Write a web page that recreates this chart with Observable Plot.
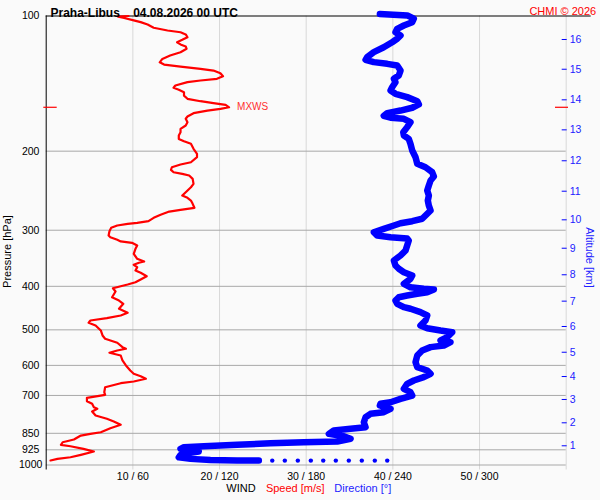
<!DOCTYPE html>
<html>
<head>
<meta charset="utf-8">
<script src="https://cdn.jsdelivr.net/npm/d3@7"></script>
<script src="https://cdn.jsdelivr.net/npm/@observablehq/plot@0.6"></script>
<style>
html, body { margin: 0; padding: 0; background: #fafafa; }
#chart svg { display: block; }
</style>
</head>
<body>
<div id="chart"></div>
<script>
// Wind speed profile [m/s] vs pressure [hPa]
const speedPressure = [100,100.3,101,102.3,103.2,104.5,106.2,107.7,108.7,109.9,111.5,113.0,114.4,115.7,116.9,118.3,120.4,122.5,124.6,126.8,128.3,129.6,131.1,132.3,134.1,136.2,138.0,139.2,140.4,142.8,144.5,146.0,147.8,150.4,152.9,154.8,156.4,157.7,159.7,161.0,162.4,164.6,167.4,169.4,172.4,175.3,178.4,181.5,184.6,187.8,190.1,192.6,197.6,202.7,206.3,211.7,214.2,217.2,220.1,222.8,224.7,226.6,230.5,236.5,240.6,246.9,251.1,254.1,257.6,262.0,267.4,270.2,272.6,277.2,281.5,286.4,288.8,290.3,292.8,296.3,301.5,308.3,311.0,315.1,317.8,320.0,324.4,330.0,338.5,347.3,352.2,354.5,358.2,362.6,368.8,373.2,379.8,386.3,391.7,396.3,399.8,403.9,410.8,423.0,430.2,437.5,448.8,458.1,464.5,471.0,476.6,482.2,488.9,501.6,514.6,523.4,534.2,546.4,551.0,555.8,562.4,570.3,585.1,600.3,615.9,626.4,634.2,642.7,651.7,657.4,671.0,688.4,697.7,708.5,721.0,730.7,743.5,749.6,760.0,775.9,789.1,800.1,813.8,828.1,845.4,852.4,859.8,877.6,889.9,901.6,908.2,920.4,933.2,949.2,961.0,968.9,977.2];
const speedValues = [9.5,8.3,9.0,10.1,10.9,11.7,12.4,14.0,15.5,16.1,16.3,15.7,15.1,15.5,16.1,16.2,15.5,14.3,13.4,13.1,13.6,15.5,17.8,19.3,20.1,20.4,19.7,17.8,16.3,14.9,14.7,15.3,15.9,15.9,16.3,17.8,19.3,20.7,21.1,20.1,18.6,17.0,16.3,16.1,16.3,16.1,15.5,15.5,15.3,15.3,15.9,16.7,17.0,17.4,17.4,16.7,15.5,14.5,14.4,14.7,15.7,16.5,16.9,17.0,16.7,16.1,15.7,16.3,16.7,16.9,17.1,15.5,14.2,13.2,12.4,11.8,10.5,9.4,8.2,7.5,7.3,7.2,7.4,8.2,8.6,9.9,10.5,10.3,10.1,10.5,11.3,10.7,10.1,10.5,10.3,10.9,11.6,10.9,10.3,9.4,8.6,7.7,8.0,7.6,8.4,8.9,8.4,9.4,8.6,7.0,5.1,4.9,5.7,6.3,6.5,6.8,8.2,8.8,9.2,8.2,7.3,8.6,8.8,9.2,9.7,10.1,10.9,11.5,10.1,8.6,6.8,6.7,6.8,4.7,4.7,5.3,5.5,5.9,5.3,5.7,7.0,7.8,8.6,7.4,6.3,5.1,4.0,3.2,1.9,1.7,2.8,4.3,5.5,4.0,2.8,1.3,0.5];

// Wind direction profile [deg] vs pressure [hPa]
const dirPressure = [99,99.7,101.4,103.2,105.0,106.8,108.7,110.5,112.4,114.4,117.4,120.4,123.5,125.2,126.7,127.8,128.9,132.3,135.7,138.0,140.4,144.1,146.5,149.0,151.6,154.8,157.4,160.1,162.4,164.6,166.8,168.5,169.4,172.4,176.8,181.5,184.6,187.8,192.6,199.3,206.3,213.4,217.2,222.8,227.8,232.5,238.5,244.7,251.1,257.6,264.3,271.2,278.2,282.9,286.4,289.4,292.8,297.8,303.1,308.3,311.0,313.1,316.2,324.4,332.9,341.5,350.4,359.5,365.6,372.1,378.5,384.9,394.9,401.9,405.2,406.6,412.3,415.7,419.4,423.0,430.2,437.5,445.2,448.8,456.7,464.5,476.6,488.9,495.8,501.6,506.0,519.1,528.0,532.6,541.9,546.4,555.8,570.3,590.2,605.6,615.9,626.4,637.5,648.3,659.4,676.5,688.4,700.2,712.2,724.7,730.7,737,749.6,762.7,769.2,782.6,803.0,823.9,830.7,838.0,852.4,862.9,874.5,886.7,889.9,894.5,901.9,908.4,913.1,920.6,928.7,933.5,939.7,949.4,961.2,969.1,974.1,977.6,977.6];
const dirValues = [231,250,254.5,253.4,247.6,243.0,241.8,245.3,243.0,239.5,233.7,226.8,222.2,221.1,226.8,236.1,243.0,245.3,244.1,240.7,241.8,239.5,238.4,241.8,249.9,256.9,258.0,253.4,245.3,236.1,233.7,238.4,247.6,252.2,249.9,247.2,247.6,251.0,252.2,253.4,255.7,256.9,262.6,267.2,268.4,266.1,264.9,263.8,264.9,264.2,264.9,266.1,262.6,260.3,253.4,245.3,240.7,233.7,226.8,229.2,238.4,249.9,251.0,249.9,248.8,245.3,240.7,241.8,244.1,247.6,253.4,252.2,247.6,252.2,261.4,268.4,263.8,256.9,249.9,244.1,241.8,243.0,247.6,252.2,259.1,263.8,262.6,259.1,263.8,273.0,281.1,277.6,273.0,279.9,275.3,266.1,260.3,256.9,255.7,256.9,263.8,266.1,261.4,254.5,249.9,247.6,252.2,253.4,245.3,238.4,231.4,231,238.4,233.7,224.5,221.1,219.9,221.1,210.7,199.1,195.7,206.0,210.7,201.5,178.3,155.3,132.2,109.1,95.3,93.0,99.9,105.6,99.9,93.0,91.8,99.9,113.7,132.2,147.2];

// Separate near-surface direction readings (dots)
const surfaceDirPressure = 977.6;
const surfaceDirValues = [156.5,165.2,174.2,183.2,191.8,200.5,209.5,218.5,227.5,236.1];

// Altitude axis (right): km and the pressure level where each sits
const altitudeKm = [1,2,3,4,5,6,7,8,9,10,11,12,13,14,15,16];
const altitudePressure = [906.2,805.4,714.6,635.3,560.9,491.5,431.6,377.0,329.0,284.4,245.6,210.1,179.3,153.7,131.4,112.8];

// Tick labels
const pressureTicks = [100,200,300,400,500,600,700,850,925,1000];
const windTicks = [10,20,30,40,50,60];
const windTickLabels = ["10 / 60","20 / 120","30 / 180","40 / 240","50 / 300",""];

// Maximum wind level
const mxwsPressure = 159.7;
const mxwsSpeed = 21.1;

const titleText = "Praha-Libus\u00a0\u00a0\u00a0\u00a004.08.2026 00 UTC";
const creditText = "CHMI \u00a9 2026";

const speedData = speedPressure.map((p, i) => ({p, s: speedValues[i]}));
const dirData = dirPressure.map((p, i) => ({p, d: dirValues[i]}));
const dotData = surfaceDirValues.map(d => ({p: surfaceDirPressure, d}));
const RED = "#ff0000", BLUE = "#0000ff", TXTBLUE = "#2222ff";

const chart = Plot.plot({
  width: 600,
  height: 500,
  marginLeft: 45.7,
  marginRight: 34.3,
  marginTop: 15.5,
  marginBottom: 35.5,
  style: {background: "#fafafa", fontFamily: "'Liberation Sans', Arial, sans-serif", fontSize: "10.5px", color: "black", overflow: "visible"},
  x: {domain: [0, 60]},
  y: {type: "log", domain: [100, 1000], reverse: true},
  marks: [
    Plot.ruleX(windTicks, {stroke: "#d8d8d8", insetBottom: -5}),
    Plot.ruleY(pressureTicks.slice(1), {stroke: "#a8a8a8"}),
    Plot.ruleY([100], {stroke: "black", insetRight: -25}),
    Plot.ruleX([0], {stroke: "black", insetBottom: -5}),
    Plot.line(speedData, {x: "s", y: "p", stroke: RED, strokeWidth: 2.2, strokeLinejoin: "round", curve: "linear"}),
    Plot.line(dirData, {x: d => d.d / 6, y: "p", stroke: BLUE, strokeWidth: 6.5, strokeLinejoin: "round", strokeLinecap: "round"}),
    Plot.dot(dotData, {x: d => d.d / 6, y: "p", r: 2.2, fill: BLUE, stroke: null}),
    Plot.ruleY([mxwsPressure], {x1: 0, x2: 0, insetLeft: -2.4, insetRight: -11, stroke: RED, strokeWidth: 1.2}),
    Plot.ruleY([mxwsPressure], {x1: 60, x2: 60, insetLeft: -10.7, insetRight: -2.3, stroke: RED, strokeWidth: 1.2}),
    Plot.text([{p: mxwsPressure, s: mxwsSpeed}], {x: "s", y: "p", text: () => "MXWS", dx: 8, textAnchor: "start", fill: "#ff3030", fontSize: 10}),
    Plot.axisY(pressureTicks, {anchor: "left", tickSize: 0, tickPadding: 15.5, textAnchor: "middle", tickFormat: d => String(d), label: null, fill: "black", fontSize: 10.5}),
    Plot.axisY(altitudePressure, {anchor: "right", tickSize: 5, insetRight: 5, tickPadding: 3.5, tickFormat: p => String(altitudeKm[altitudePressure.indexOf(p)]), label: null, stroke: BLUE, fill: TXTBLUE, fontSize: 10.5}),
    Plot.axisX(windTicks, {anchor: "bottom", tickSize: 0, tickPadding: 8, tickFormat: d => windTickLabels[windTicks.indexOf(d)], label: null, fill: "black", fontSize: 10.5}),
    Plot.text([titleText], {text: d => d, frameAnchor: "top-left", dx: 4.3, dy: -7.5, textAnchor: "start", fontWeight: "bold", fontSize: 12, fill: "black"}),
    Plot.text([creditText], {text: d => d, frameAnchor: "top-right", dx: 30, dy: -9, textAnchor: "end", fontSize: 11, fill: RED}),
    Plot.text(["Pressure [hPa]"], {text: d => d, frameAnchor: "left", dx: -39.2, dy: 11, rotate: -90, textAnchor: "middle", fontSize: 11, fill: "black"}),
    Plot.text(["Altitude [km]"], {text: d => d, frameAnchor: "right", dx: 23.3, dy: 17, rotate: 90, textAnchor: "middle", fontSize: 11, fill: TXTBLUE}),
    Plot.text(["WIND"], {text: d => d, frameAnchor: "bottom", dx: -79.9, dy: 26.5, textAnchor: "start", fontSize: 11, fill: "black"}),
    Plot.text(["Speed [m/s]"], {text: d => d, frameAnchor: "bottom", dx: -40.3, dy: 26.5, textAnchor: "start", fontSize: 11, fill: RED}),
    Plot.text(["Direction [\u00b0]"], {text: d => d, frameAnchor: "bottom", dx: 28.1, dy: 26.5, textAnchor: "start", fontSize: 11, fill: TXTBLUE})
  ]
});
document.getElementById("chart").appendChild(chart);
</script>
</body>
</html>
